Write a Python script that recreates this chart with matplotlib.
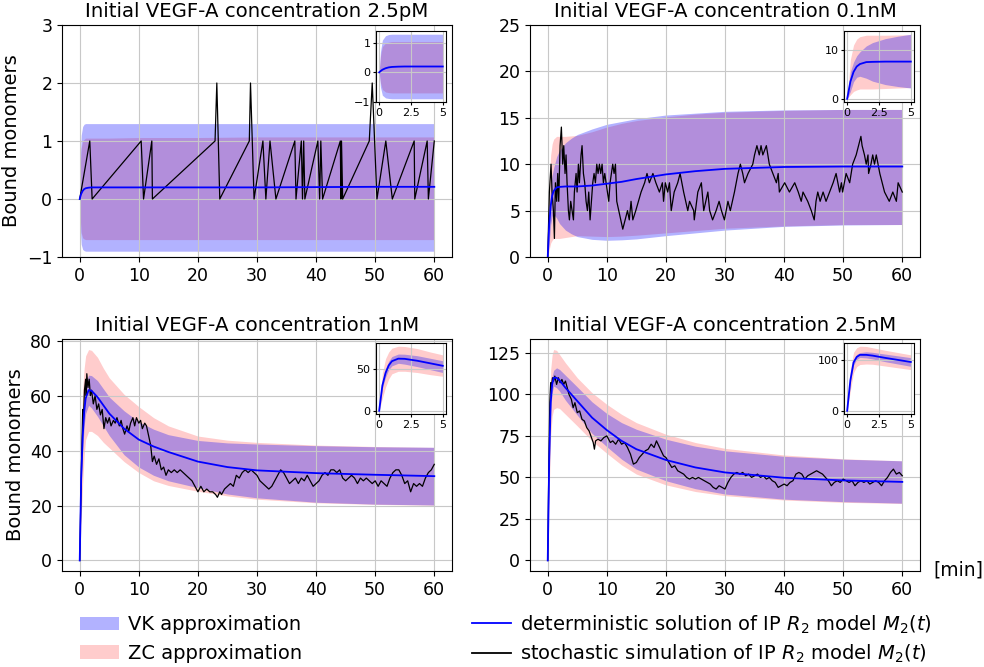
import matplotlib.pyplot as plt
import numpy as np
from matplotlib.patches import Patch
from matplotlib.lines import Line2D

titles = ['Initial VEGF-A concentration 2.5pM', 'Initial VEGF-A concentration 0.1nM',
          'Initial VEGF-A concentration 1nM', 'Initial VEGF-A concentration 2.5nM']

# 2.5pM
t1 = [0, 0.1, 0.25, 0.5, 0.75, 1, 1.5, 2, 3, 5, 10, 20, 30, 40, 50, 60]
det1 = [0, 0.04, 0.09, 0.14, 0.17, 0.185, 0.195, 0.2, 0.2, 0.2, 0.2, 0.2, 0.2, 0.205, 0.21, 0.21]
vk1_hi = [0, 0.7, 1.1, 1.25, 1.29, 1.3, 1.3, 1.3, 1.3, 1.3, 1.3, 1.3, 1.3, 1.3, 1.3, 1.3]
vk1_lo = [0, -0.5, -0.78, -0.87, -0.89, -0.9, -0.9, -0.9, -0.9, -0.9, -0.9, -0.9, -0.9, -0.9, -0.9, -0.9]
zc1_hi = [0, 0.55, 0.88, 1.0, 1.03, 1.05, 1.05, 1.05, 1.05, 1.05, 1.06, 1.06, 1.07, 1.07, 1.07, 1.07]
zc1_lo = [0, -0.35, -0.58, -0.67, -0.69, -0.7, -0.7, -0.7, -0.7, -0.7, -0.7, -0.7, -0.7, -0.7, -0.7, -0.7]
s1_t = [0, 1.7, 2.1, 10.4, 10.8, 12.2, 12.3, 22.9, 23.2, 23.7, 28.7, 28.9, 29.5, 31.0, 31.5,
        32.2, 33.2, 36.4, 36.6, 37.5, 37.7, 37.9, 38.1, 40.3, 40.6, 40.8, 41.1, 44.1, 44.2,
        44.3, 44.5, 49.0, 49.5, 50.3, 51.8, 52.9, 56.6, 56.7, 58.8, 59.0, 60.0]
s1_v = [0, 1, 0, 1, 0, 1, 0, 1, 2, 0, 1, 2, 0, 1, 0, 1, 0, 1, 0, 1, 0, 1, 0, 1, 0, 1, 0,
        1, 0, 1, 0, 1, 2, 0, 1, 0, 1, 0, 1, 0, 1]

# 0.1nM
t2 = [0, 0.25, 0.5, 0.75, 1, 1.5, 2, 3, 4, 5, 7.5, 10, 12.5, 15, 20, 25, 30, 40, 50, 60]
det2 = [0, 3.5, 5.5, 6.6, 7.1, 7.5, 7.55, 7.6, 7.6, 7.6, 7.7, 7.9, 8.1, 8.4, 8.9, 9.25, 9.5, 9.7, 9.75, 9.75]
vk2_hi = [0, 5.5, 7.5, 8.8, 9.6, 10.8, 11.5, 12.3, 12.8, 13.2, 13.8, 14.3, 14.6, 14.9, 15.3, 15.5, 15.7, 15.85, 15.9, 15.9]
vk2_lo = [0, 1.5, 3.5, 4.4, 4.6, 4.2, 3.6, 2.9, 2.5, 2.2, 1.9, 1.8, 1.85, 1.95, 2.3, 2.6, 2.9, 3.3, 3.45, 3.5]
zc2_hi = [0, 8, 11, 12.2, 12.7, 13.0, 13.0, 13.0, 13.05, 13.1, 13.5, 14.0, 14.4, 14.7, 15.1, 15.4, 15.6, 15.8, 15.9, 15.9]
zc2_lo = [0, 0.8, 1.5, 1.8, 2.0, 2.0, 2.0, 2.1, 2.2, 2.3, 2.25, 2.2, 2.25, 2.35, 2.6, 2.85, 3.1, 3.35, 3.5, 3.5]
s2_t = [0, 0.28, 0.56, 0.73, 0.96, 1.13, 1.3, 1.52, 1.69, 1.86, 2.09, 2.31, 2.54, 2.71, 2.93,
        3.1, 3.27, 3.5, 3.67, 3.89, 4.12, 4.35, 4.51, 4.8, 4.97, 5.19, 5.36, 5.64, 5.81, 6.04,
        6.26, 6.49, 6.72, 6.94, 7.17, 7.39, 7.62, 7.84, 8.07, 8.3, 8.52, 8.75, 8.97, 9.2, 9.42,
        9.65, 9.88, 10.1, 10.33, 10.55, 10.78, 11.0, 11.23, 11.46, 11.68, 12.7, 13.5, 13.8, 14.1,
        14.4, 14.9, 15.8, 16.4, 16.8, 17.2, 17.8, 18.3, 18.9, 19.4, 19.5, 19.6, 19.9, 20.3, 20.6,
        20.9, 21.4, 22.0, 22.4, 22.7, 23.0, 23.7, 24.0, 24.7, 24.8, 25.4, 26.0, 26.4, 27.1, 27.4,
        27.9, 28.5, 29.0, 29.4, 29.9, 30.5, 30.9, 31.6, 31.9, 32.2, 32.6, 33.0, 33.3, 33.9, 34.7,
        35.0, 35.4, 35.8, 36.1, 36.4, 37.0, 37.5, 38.1, 38.7, 39.0, 39.2, 40.1, 40.9, 41.8, 42.4,
        42.9, 43.2, 44.0, 44.6, 45.1, 45.4, 45.7, 46.1, 46.6, 47.1, 47.7, 48.3, 48.8, 49.1, 49.4,
        49.7, 49.9, 50.5, 51.1, 51.6, 52.2, 52.6, 53.0, 53.2, 53.6, 53.9, 54.2, 54.3, 54.7, 55.0,
        55.3, 55.6, 55.9, 56.2, 57.0, 57.8, 58.4, 59.0, 59.3, 60.0]
s2_v = [0, 7, 10, 7, 5, 2, 8, 6, 9, 6, 12, 14, 10, 12, 9,
        11, 8, 5, 4, 6, 5, 4, 7, 9, 7, 10, 8, 11, 12, 9,
        8, 6, 5, 7, 4, 6, 8, 9, 8, 10, 9, 10, 9, 10, 8,
        9, 8, 7, 6, 8, 9, 10, 9, 10, 6, 3, 5, 4, 6,
        4, 5, 7, 8, 9, 8, 9, 8, 7, 8, 7, 6, 8, 7, 8,
        5, 7, 8, 9, 8, 7, 5, 6, 5, 4, 7, 8, 5, 7, 5,
        4, 5, 6, 5, 4, 6, 5, 7, 8, 9, 10, 9, 8, 9, 10,
        11, 12, 11, 12, 11, 12, 10, 9, 8, 9, 7, 8, 7, 8, 7,
        6, 7, 6, 5, 4, 6, 7, 6, 7, 6, 7, 8, 9, 8, 7,
        8, 7, 9, 8, 10, 11, 12, 13, 12, 11, 10, 11, 9, 10, 11,
        10, 11, 10, 9, 7, 6, 7, 6, 8, 7]

# 1nM
t3 = [0, 0.25, 0.5, 0.75, 1, 1.5, 2, 3, 4, 5, 7.5, 10, 12.5, 15, 20, 25, 30, 40, 50, 60]
det3 = [0, 30, 45, 54, 59, 62, 61.8, 59.5, 56.5, 53.5, 48, 44, 41.5, 39.5, 36, 34, 32.8, 31.8, 31.2, 30.7]
vk3_hi = [0, 33, 50, 59, 64.5, 67.5, 67.3, 65.5, 62.5, 59.5, 54.5, 50.5, 47.8, 45.8, 43.7, 42.8, 42.4, 41.8, 41.4, 41.2]
vk3_lo = [0, 27, 40, 49, 53.5, 56.5, 55.5, 52.5, 49, 45.5, 38.5, 34, 31, 29, 26.5, 24.2, 22.8, 21.2, 20.5, 20.2]
zc3_hi = [0, 45, 62, 70, 74.5, 76.8, 76.5, 74, 70, 66.5, 60.5, 56, 52, 49, 45.3, 43.8, 43, 42, 41.5, 41.2]
zc3_lo = [0, 15, 28, 38, 44, 47, 47, 45.5, 43, 41, 36, 32, 29, 27.3, 25.2, 23.5, 22.3, 21, 20.4, 20.1]
s3_t = [0, 0.3, 0.5, 0.6, 0.8, 1.0, 1.1, 1.2, 1.4, 1.6, 1.8, 2.0, 2.3, 2.6, 2.9, 3.2, 3.5, 3.8,
        4.1, 4.4, 4.7, 5.0, 5.3, 5.7, 6.0, 6.3, 6.7, 7.0, 7.3, 7.6, 8.0, 8.3, 8.6, 9.0, 9.3, 9.6,
        10.0, 10.3, 10.6, 11.0, 11.3, 11.6, 12.0, 12.3, 12.6, 13.0, 13.4, 13.8, 14.2, 14.6, 15.0,
        15.5, 16.0, 16.5, 17.0, 17.5, 18.0, 18.5, 19.0, 19.5, 20.0, 20.5, 21.0, 21.5, 22.0, 22.5,
        23.0, 23.3, 23.7, 24.0, 24.5, 25.0, 25.5, 26.0, 26.5, 27.0, 27.5, 28.0, 28.5, 29.0, 29.5,
        30.0, 30.5, 31.0, 31.5, 32.0, 32.5, 33.0, 33.5, 34.0, 34.5, 35.0, 35.5, 36.0, 36.5, 37.0,
        37.5, 38.0, 38.5, 39.0, 39.5, 40.0, 40.5, 41.0, 41.5, 42.0, 42.5, 43.0, 43.5, 44.0, 44.5,
        45.0, 45.5, 46.0, 46.5, 47.0, 47.5, 48.0, 48.5, 49.0, 49.5, 50.0, 50.5, 51.0, 51.5, 52.0,
        52.5, 53.0, 53.5, 54.0, 54.5, 55.0, 55.5, 56.0, 56.5, 57.0, 57.5, 58.0, 58.5, 59.0, 59.5, 60.0]
s3_v = [0, 35, 55, 50, 62, 66, 60, 68, 63, 66, 60, 62, 57, 60, 55, 57, 53, 55,
        48, 52, 50, 52, 49, 51, 50, 52, 49, 51, 48, 46, 49, 47, 50, 52, 49, 52,
        50, 51, 48, 50, 49, 46, 42, 36, 38, 35, 37, 33, 34, 31, 33,
        32, 33, 32, 33, 32, 31, 30, 29, 27, 25, 27, 25, 26, 25, 25,
        24, 23, 25, 24, 26, 27, 28, 27, 31, 30, 32, 33, 32, 33, 32,
        31, 29, 28, 27, 26, 27, 29, 31, 33, 32, 30, 28, 29, 30, 28,
        30, 29, 31, 29, 27, 28, 29, 31, 32, 31, 33, 33, 32, 33, 30,
        29, 30, 31, 30, 28, 30, 29, 30, 29, 28, 29, 27, 29, 28, 27,
        30, 32, 33, 33, 31, 28, 29, 25, 28, 27, 28, 27, 30, 32, 33, 35]

# 2.5nM
t4 = [0, 0.25, 0.5, 0.75, 1, 1.5, 2, 3, 4, 5, 7.5, 10, 12.5, 15, 20, 25, 30, 40, 50, 60]
det4 = [0, 60, 95, 106, 110, 110, 108.5, 104, 100, 96, 86, 78.5, 72, 67, 60.5, 56, 53, 49.8, 48.2, 47.3]
vk4_hi = [0, 64, 100, 111, 114.5, 116, 115, 111.5, 108, 104.5, 95.5, 88.5, 83, 79, 73, 68.8, 66, 62.7, 61, 60]
vk4_lo = [0, 56, 90, 101, 105, 104, 102, 96.5, 92, 87.5, 76.5, 68.5, 61, 55, 48, 43.2, 40, 36.9, 35.4, 34.5]
zc4_hi = [0, 80, 115, 124, 127, 126.5, 124, 119, 114.5, 110, 101, 94, 88, 83, 76, 71, 67.5, 63.5, 61.2, 60]
zc4_lo = [0, 40, 75, 87, 91, 92, 91.5, 88, 84.5, 81, 72, 64.5, 57.5, 52, 45.5, 41.5, 39, 36.4, 35, 34.3]
s4_t = [0, 0.2, 0.35, 0.5, 0.6, 0.8, 1.0, 1.2, 1.5, 1.8, 2.1, 2.4, 2.7, 3.0, 3.3, 3.6, 4.0, 4.3,
        4.6, 5.0, 5.4, 5.8, 6.2, 6.6, 7.0, 7.4, 7.7, 7.9, 8.1, 8.5, 9.0, 9.5, 10.0, 10.3, 10.6,
        11.0, 11.5, 12.0, 12.5, 13.0, 13.5, 14.0, 14.5, 15.0, 15.5, 16.0, 16.5, 17.0, 17.5, 18.0,
        18.4, 18.8, 19.2, 19.6, 20.0, 20.5, 21.0, 21.5, 22.0, 22.5, 23.0, 23.5, 24.0, 24.5, 25.0,
        25.5, 26.0, 26.5, 27.0, 27.5, 28.0, 28.5, 29.0, 29.5, 30.0, 30.5, 31.0, 31.5, 32.0, 32.5,
        33.0, 33.5, 34.0, 34.5, 35.0, 35.5, 36.0, 36.5, 37.0, 37.5, 38.0, 38.5, 39.0, 39.5, 40.0,
        40.5, 41.0, 41.5, 42.0, 42.5, 43.0, 43.5, 44.0, 44.5, 45.0, 45.5, 46.0, 46.5, 47.0, 47.5,
        48.0, 48.5, 49.0, 49.5, 50.0, 50.5, 51.0, 51.5, 52.0, 52.5, 53.0, 53.5, 54.0, 54.5, 55.0,
        55.5, 56.0, 56.5, 57.0, 57.5, 58.0, 58.5, 59.0, 59.5, 60.0]
s4_v = [0, 60, 95, 107, 104, 110, 108, 111, 106, 110, 107, 109, 106, 108, 104, 100, 97, 92,
        95, 89, 90, 85, 84, 80, 78, 74, 71, 67, 72, 73, 72, 74, 75, 73, 71,
        72, 70, 73, 70, 71, 68, 64, 58, 59, 62, 64, 66, 67, 70, 68,
        72, 69, 66, 63, 62, 59, 56, 57, 54, 53, 52, 50, 49, 50, 49,
        50, 49, 48, 47, 46, 44, 43, 45, 44, 43, 47, 50, 52, 53, 52,
        53, 51, 52, 50, 51, 52, 50, 51, 49, 50, 48, 47, 44, 45, 46,
        45, 47, 48, 52, 53, 52, 49, 51, 52, 53, 54, 53, 52, 50, 48,
        45, 47, 48, 47, 49, 48, 47, 48, 45, 47, 48, 47, 48, 46, 47,
        48, 47, 45, 48, 50, 53, 55, 52, 53, 51]

panels = [
    (t1, det1, vk1_hi, vk1_lo, zc1_hi, zc1_lo, s1_t, s1_v),
    (t2, det2, vk2_hi, vk2_lo, zc2_hi, zc2_lo, s2_t, s2_v),
    (t3, det3, vk3_hi, vk3_lo, zc3_hi, zc3_lo, s3_t, s3_v),
    (t4, det4, vk4_hi, vk4_lo, zc4_hi, zc4_lo, s4_t, s4_v),
]
ylims = [(-1, 3), (0, 25), None, None]
yticks = [[-1, 0, 1, 2, 3], [0, 5, 10, 15, 20, 25], [0, 20, 40, 60, 80], [0, 25, 50, 75, 100, 125]]
inset_yticks = [[-1, 0, 1], [0, 10], [0, 50], [0, 100]]

W, H = 984, 667
main_px = [(62, 25), (530, 25), (62, 339), (530, 339)]
inset_px = [(376, 31), (844, 31), (376, 343), (844, 343)]

fig = plt.figure(figsize=(9.84, 6.67), dpi=100)

for i, (t, det, vk_hi, vk_lo, zc_hi, zc_lo, st, sv) in enumerate(panels):
    x0, y0 = main_px[i]
    ax = fig.add_axes([x0 / W, 1 - (y0 + 232) / H, 390 / W, 232 / H])
    ax.fill_between(t, zc_lo, zc_hi, color='red', alpha=0.2, lw=0)
    ax.fill_between(t, vk_lo, vk_hi, color='blue', alpha=0.3, lw=0)
    ax.plot(st, sv, color='black', lw=0.9)
    ax.plot(t, det, color='blue', lw=1.3)
    ax.grid(True, color='#c8c8c8')
    ax.set_yticks(yticks[i])
    if ylims[i] is not None:
        ax.set_ylim(*ylims[i])
    ax.set_title(titles[i], fontsize=14.2)
    ax.tick_params(labelsize=12.5)
    if i % 2 == 0:
        ax.set_ylabel('Bound monomers', fontsize=14)

    # zoomed view of the first 5 minutes
    ta = np.array(t)
    m = ta <= 5
    ix, iy = inset_px[i]
    axi = fig.add_axes([ix / W, 1 - (iy + 71) / H, 70 / W, 71 / H])
    axi.fill_between(ta[m], np.array(zc_lo)[m], np.array(zc_hi)[m], color='red', alpha=0.2, lw=0)
    axi.fill_between(ta[m], np.array(vk_lo)[m], np.array(vk_hi)[m], color='blue', alpha=0.3, lw=0)
    axi.plot(ta[m], np.array(det)[m], color='blue', lw=1.3)
    axi.set_xticks([0, 2.5, 5])
    axi.set_xticklabels(['0', '2.5', '5'])
    axi.set_yticks(inset_yticks[i])
    axi.grid(True, color='#c8c8c8')
    axi.tick_params(labelsize=8, length=2.5, pad=1.5)

fig.text(933 / W, 1 - 570 / H, '[min]', fontsize=13.5, va='center', ha='left')

h_bands = [Patch(color='blue', alpha=0.3, lw=0), Patch(color='red', alpha=0.2, lw=0)]
h_lines = [Line2D([], [], color='blue', lw=1.3), Line2D([], [], color='black', lw=1.3)]
fig.legend(h_bands, ['VK approximation', 'ZC approximation'], loc='center left',
           bbox_to_anchor=(80 / W, 1 - 639 / H), frameon=False, fontsize=14,
           borderpad=0, borderaxespad=0, handlelength=2.0, handletextpad=0.45,
           labelspacing=0.5)
fig.legend(h_lines, ['deterministic solution of IP $R_2$ model $M_2(t)$',
                     'stochastic simulation of IP $R_2$ model $M_2(t)$'],
           loc='center left', bbox_to_anchor=(472 / W, 1 - 639 / H), frameon=False,
           fontsize=14, borderpad=0, borderaxespad=0, handlelength=2.0,
           handletextpad=0.45, labelspacing=0.35)

fig.savefig('out.png', dpi=100)
